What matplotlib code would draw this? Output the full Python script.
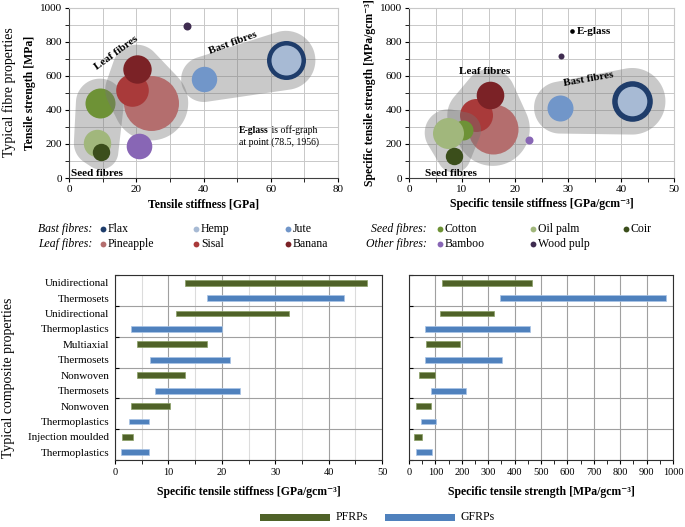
import numpy as np
import matplotlib
matplotlib.use('Agg')
import matplotlib.pyplot as plt
from matplotlib.patches import Polygon, Rectangle
from matplotlib.ticker import MultipleLocator, FixedLocator

plt.rcParams['font.family'] = ['Liberation Serif', 'DejaVu Serif']

# fibre data
fibres = ['Flax', 'Hemp', 'Jute', 'Pineapple', 'Sisal', 'Banana',
          'Cotton', 'Oil palm', 'Coir', 'Bamboo', 'Wood pulp']
groups = ['Bast', 'Bast', 'Bast', 'Leaf', 'Leaf', 'Leaf',
          'Seed', 'Seed', 'Seed', 'Other', 'Other']
colors = ['#1f3d6b', '#a7bad4', '#7196c9', '#b46e6e', '#a93a3a', '#7b2226',
          '#6e9236', '#a1b77c', '#3b4e1b', '#8866b5', '#3f2c50']

stiffness = [64.5, 64.5, 40.1, 24.3, 18.6, 20.1, 9.2, 8.2, 9.4, 20.8, 35.1]
strength = [690, 690, 579, 440, 518, 640, 442, 205, 154, 186, 893]
bubble_tl = [19.5, 15.0, 12.7, 27.5, 16.3, 14.2, 15.0, 13.7, 8.7, 12.8, 4.0]

spec_stiffness = [42.1, 42.1, 28.5, 15.8, 12.6, 15.2, 10.2, 7.4, 8.5, 22.6, 28.6]
spec_strength = [450, 450, 413, 288, 367, 488, 281, 265, 130, 222, 715]
bubble_tr = [20.3, 14.8, 13.0, 25.0, 16.5, 13.8, 10.0, 15.5, 8.7, 4.0, 3.0]

eglass_x, eglass_y = 30.8, 862

# composite data (ranges)
composites = ['Unidirectional\nThermosets', 'Unidirectional\nThermoplastics',
              'Multiaxial\nThermosets', 'Nonwoven\nThermosets',
              'Nonwoven\nThermoplastics', 'Injection moulded\nThermoplastics']
pf_stiff_lo = [13.1, 11.5, 4.2, 4.2, 3.0, 1.4]
pf_stiff_hi = [47.1, 32.5, 17.2, 13.1, 10.3, 3.4]
gf_stiff_lo = [17.3, 3.0, 6.5, 7.5, 2.7, 1.2]
gf_stiff_hi = [42.9, 20.0, 21.5, 23.5, 6.4, 6.4]
pf_str_lo = [125, 116, 63, 37, 28, 18]
pf_str_hi = [466, 322, 192, 100, 83, 51]
gf_str_lo = [345, 59, 62, 82, 45, 27]
gf_str_hi = [972, 458, 354, 217, 104, 87]

GREEN = '#4f6228'
BLUE = '#4f81bd'

W, H = 685, 527
fig = plt.figure(figsize=(W / 100, H / 100), dpi=100)


def px_axes(l, t, r, b):
    return fig.add_axes([l / W, 1 - b / H, (r - l) / W, (b - t) / H])


def hull(pts):
    pts = sorted(map(tuple, pts))

    def cross(o, a, b):
        return (a[0] - o[0]) * (b[1] - o[1]) - (a[1] - o[1]) * (b[0] - o[0])
    lower = []
    for p in pts:
        while len(lower) >= 2 and cross(lower[-2], lower[-1], p) <= 0:
            lower.pop()
        lower.append(p)
    upper = []
    for p in reversed(pts):
        while len(upper) >= 2 and cross(upper[-2], upper[-1], p) <= 0:
            upper.pop()
        upper.append(p)
    return np.array(lower[:-1] + upper[:-1])


def blob(ax, xs, ys, rs, pad, z):
    c = ax.transData.transform(np.column_stack([xs, ys]))
    t = np.linspace(0, 2 * np.pi, 90, endpoint=False)
    pts = np.concatenate([ci + (r + pad) * np.column_stack([np.cos(t), np.sin(t)])
                          for ci, r in zip(c, rs)])
    h = ax.transData.inverted().transform(hull(pts))
    ax.add_patch(Polygon(h, closed=True, fc='#757575', alpha=0.39, ec='none', zorder=z))


def bubble_chart(ax, xs, ys, rs, order, pads):
    z = 2
    for g in order:
        idx = [i for i in range(len(fibres)) if groups[i] == g]
        if g in pads:
            blob(ax, [xs[i] for i in idx], [ys[i] for i in idx],
                 [rs[i] for i in idx], pads[g], z)
        for i in idx:
            ax.scatter(xs[i], ys[i], s=(2 * rs[i] * 0.72) ** 2, c=colors[i],
                       lw=0, zorder=z + 1)
        z += 2


def style_top(ax):
    ax.grid(which='both', color='#c8c8c8', lw=0.7)
    ax.set_axisbelow(True)
    for s in ['top', 'right']:
        ax.spines[s].set_color('#c8c8c8')
    for s in ['left', 'bottom']:
        ax.spines[s].set_color('#404040')
    ax.tick_params(which='both', direction='out', length=3, labelsize=8, pad=2)
    ax.yaxis.set_major_locator(MultipleLocator(200))
    ax.yaxis.set_minor_locator(MultipleLocator(100))
    ax.set_ylim(0, 1000)


# ---- top left
ax1 = px_axes(69, 7.5, 338, 178)
ax1.set_xlim(0, 80)
ax1.xaxis.set_major_locator(MultipleLocator(20))
ax1.xaxis.set_minor_locator(MultipleLocator(10))
style_top(ax1)
bubble_chart(ax1, stiffness, strength, bubble_tl,
             ['Seed', 'Leaf', 'Bast', 'Other'], {'Seed': 9, 'Leaf': 10, 'Bast': 10})
ax1.set_xlabel('Tensile stiffness [GPa]', fontsize=8.5, fontweight='bold', labelpad=3)
ax1.set_ylabel('Tensile strength [MPa]', fontsize=8.5, fontweight='bold', labelpad=3)
ax1.text(14.1, 731, 'Leaf fibres', rotation=36, fontsize=8, fontweight='bold',
         ha='center', va='center', zorder=20)
ax1.text(48.9, 790, 'Bast fibres', rotation=20, fontsize=8, fontweight='bold',
         ha='center', va='center', zorder=20)
ax1.text(8.2, 27, 'Seed fibres', fontsize=8, fontweight='bold',
         ha='center', va='center', zorder=20)
t1 = ax1.text(50.6, 281, 'E-glass', fontsize=7, fontweight='bold', va='center', zorder=20)
ax1.annotate(' is off-graph', xy=(1, 0.5), xycoords=t1, va='center', fontsize=7, zorder=20)
ax1.text(50.6, 211, 'at point (78.5, 1956)', fontsize=7, va='center', zorder=20)

# ---- top right
ax2 = px_axes(409, 7.5, 674, 178)
ax2.set_xlim(0, 50)
ax2.xaxis.set_major_locator(MultipleLocator(10))
ax2.xaxis.set_minor_locator(MultipleLocator(5))
style_top(ax2)
bubble_chart(ax2, spec_stiffness, spec_strength, bubble_tr,
             ['Leaf', 'Seed', 'Bast', 'Other'], {'Seed': 8, 'Leaf': 12, 'Bast': 13})
ax2.scatter(eglass_x, eglass_y, s=(2 * 2.3 * 0.72) ** 2, c='black', lw=0, zorder=12)
ax2.text(eglass_x + 0.8, eglass_y, 'E-glass', fontsize=8, fontweight='bold',
         va='center', zorder=20)
ax2.set_xlabel('Specific tensile stiffness [GPa/gcm⁻³]', fontsize=8.5,
               fontweight='bold', labelpad=3)
ax2.set_ylabel('Specific tensile strength [MPa/gcm⁻³]', fontsize=8.5,
               fontweight='bold', labelpad=3)
ax2.text(14.2, 622, 'Leaf fibres', fontsize=8, fontweight='bold',
         ha='center', va='center', zorder=20)
ax2.text(33.9, 579, 'Bast fibres', rotation=10, fontsize=8, fontweight='bold',
         ha='center', va='center', zorder=20)
ax2.text(7.9, 27, 'Seed fibres', fontsize=8, fontweight='bold',
         ha='center', va='center', zorder=20)


# ---- bottom bar charts
def range_chart(ax, pf_lo, pf_hi, gf_lo, gf_hi, labels):
    n = len(composites)
    g = np.arange(n)
    ax.barh(g + 0.25, np.array(pf_hi) - np.array(pf_lo), left=pf_lo, height=0.19,
            color=GREEN, edgecolor='#8aa066', lw=0.5, zorder=3)
    ax.barh(g + 0.75, np.array(gf_hi) - np.array(gf_lo), left=gf_lo, height=0.19,
            color=BLUE, edgecolor='#a9c4e6', lw=0.5, zorder=3)
    ax.set_ylim(n, 0)
    ax.yaxis.set_major_locator(FixedLocator(range(n + 1)))
    ax.yaxis.set_major_formatter(plt.NullFormatter())
    pos = np.sort(np.concatenate([g + 0.25, g + 0.75]))
    ax.set_yticks(pos, minor=True)
    if labels:
        lines = [ln for c in composites for ln in c.split('\n')]
        ax.set_yticklabels(lines, minor=True, fontsize=8)
    ax.tick_params(axis='y', which='minor', length=0, pad=4)
    ax.tick_params(axis='y', which='major', direction='in', length=3)
    ax.tick_params(axis='x', which='both', direction='out', length=3, labelsize=7.5, pad=3)
    ax.grid(axis='y', which='major', color='#a0a0a0', lw=0.8)
    ax.grid(axis='x', which='major', color='#a0a0a0', lw=0.8)
    ax.set_axisbelow(True)
    for s in ax.spines.values():
        s.set_color('#303030')


ax3 = px_axes(115, 275, 382, 460)
ax3.set_xlim(0, 50)
ax3.xaxis.set_major_locator(MultipleLocator(10))
ax3.xaxis.set_minor_locator(MultipleLocator(5))
range_chart(ax3, pf_stiff_lo, pf_stiff_hi, gf_stiff_lo, gf_stiff_hi, True)
ax3.grid(axis='x', which='minor', color='#dcdcdc', lw=0.8)
ax3.set_xlabel('Specific tensile stiffness [GPa/gcm⁻³]', fontsize=8.5,
               fontweight='bold', labelpad=6)

ax4 = px_axes(409, 275, 673, 460)
ax4.set_xlim(0, 1000)
ax4.xaxis.set_major_locator(MultipleLocator(100))
ax4.xaxis.set_minor_locator(MultipleLocator(50))
range_chart(ax4, pf_str_lo, pf_str_hi, gf_str_lo, gf_str_hi, False)
ax4.set_xlabel('Specific tensile strength [MPa/gcm⁻³]', fontsize=8.5,
               fontweight='bold', labelpad=6)

# ---- figure level labels and legends
fig.text(9 / W, 1 - 92 / H, 'Typical fibre properties', rotation=90,
         fontsize=10, ha='center', va='center')
fig.text(9 / W, 1 - 378 / H, 'Typical composite properties', rotation=90,
         fontsize=10, ha='center', va='center')

la = fig.add_axes([0, 0, 1, 1])
la.set_xlim(0, W)
la.set_ylim(H, 0)
la.axis('off')

legend_blocks = [('Bast', 'Bast fibres:', 0, 0), ('Leaf', 'Leaf fibres:', 1, 0),
                 ('Seed', 'Seed fibres:', 0, 1), ('Other', 'Other fibres:', 1, 1)]
row_y = [229, 244]
label_right = [92, 427]
col_x = [[103, 196, 288], [440, 533, 626]]
for g, name, row, blk in legend_blocks:
    y = row_y[row]
    la.text(label_right[blk], y, name, style='italic', fontsize=8.5,
            ha='right', va='center')
    idx = [i for i in range(len(fibres)) if groups[i] == g]
    for k, i in enumerate(idx):
        x = col_x[blk][k]
        la.plot(x, y, 'o', ms=4.2, color=colors[i], mew=0)
        la.text(x + 5, y, fibres[i], fontsize=8.5, ha='left', va='center')

for x0, col, name in [(260, GREEN, 'PFRPs'), (385, BLUE, 'GFRPs')]:
    la.add_patch(Rectangle((x0, 514), 70, 7, fc=col, ec='none'))
    la.text(x0 + 76, 517.5, name, fontsize=8.5, ha='left', va='center')

fig.savefig('out.png', dpi=100)
